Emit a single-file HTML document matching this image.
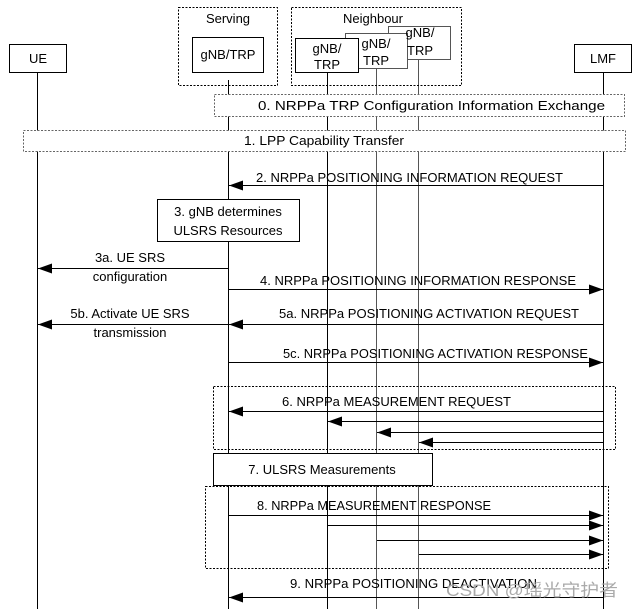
<!DOCTYPE html>
<html><head><meta charset="utf-8"><style>html,body{margin:0;padding:0;background:#fff}svg{display:block}text{font-family:"Liberation Sans","Noto Sans CJK SC",sans-serif;font-size:13px;fill:#000}</style></head>
<body>
<svg width="633" height="609" viewBox="0 0 633 609" xmlns="http://www.w3.org/2000/svg">
<defs><marker id="a" markerWidth="14" markerHeight="10" refX="14" refY="5" orient="auto" markerUnits="userSpaceOnUse"><path d="M0,0 L14,5 L0,10 z" fill="#000"/></marker></defs>
<g stroke="#000" stroke-width="1" fill="none">
<line x1="37.5" y1="72" x2="37.5" y2="609"/>
<line x1="228.5" y1="80" x2="228.5" y2="609"/>
<line x1="327.5" y1="72" x2="327.5" y2="609"/>
<line x1="376.5" y1="68" x2="376.5" y2="609" stroke="#555"/>
<line x1="418.5" y1="59" x2="418.5" y2="609" stroke="#555"/>
<line x1="603.5" y1="72" x2="603.5" y2="609"/>
<rect x="178.5" y="7.5" width="99" height="78" stroke-dasharray="2,1.5"/>
<rect x="291.5" y="7.5" width="170" height="78" stroke-dasharray="2,1.5"/>
</g>
<g fill="#fff" stroke="#000">
<rect x="9.5" y="44.5" width="57" height="28"/>
<rect x="192.5" y="37.5" width="71" height="35"/>
<rect x="574.5" y="44.5" width="57" height="28"/>
<rect x="388.5" y="26.5" width="62" height="33" stroke="#555"/>
<rect x="345.5" y="33.5" width="62" height="35" stroke="#555"/>
<rect x="295.5" y="38.5" width="63" height="34"/>
<rect x="214.5" y="94.5" width="410" height="22" stroke="#666" stroke-dasharray="2,1.5"/>
<rect x="23.5" y="130.5" width="602" height="21" stroke="#666" stroke-dasharray="2,1.5"/>
<rect x="157.5" y="199.5" width="142" height="42"/>
<rect x="213.5" y="453.5" width="219" height="32"/>
</g>
<g fill="none" stroke="#000" stroke-dasharray="2,1.5">
<rect x="213.5" y="386.5" width="402" height="63"/>
<rect x="205.5" y="486.5" width="403" height="82"/>
</g>
<g stroke="#000" marker-end="url(#a)">
<line x1="603" y1="185.5" x2="229" y2="185.5"/>
<line x1="228" y1="268.5" x2="38" y2="268.5"/>
<line x1="229" y1="289.5" x2="603" y2="289.5"/>
<line x1="603" y1="324.5" x2="229" y2="324.5"/>
<line x1="228" y1="324.5" x2="38" y2="324.5"/>
<line x1="229" y1="362.5" x2="603" y2="362.5"/>
<line x1="603" y1="411.5" x2="229" y2="411.5"/>
<line x1="603" y1="421.5" x2="328" y2="421.5"/>
<line x1="603" y1="432.5" x2="377" y2="432.5"/>
<line x1="603" y1="442.5" x2="419" y2="442.5"/>
<line x1="229" y1="515.5" x2="603" y2="515.5"/>
<line x1="328" y1="525.5" x2="603" y2="525.5"/>
<line x1="377" y1="540.5" x2="603" y2="540.5"/>
<line x1="419" y1="554.5" x2="603" y2="554.5"/>
<line x1="603" y1="597.5" x2="229" y2="597.5"/>
</g>
<g text-anchor="middle">
<text x="38" y="63">UE</text>
<text x="228" y="23">Serving</text>
<text x="228" y="59">gNB/TRP</text>
<text x="373" y="23">Neighbour</text>
<text x="603" y="63">LMF</text>
<text x="327" y="53">gNB/</text><text x="327" y="69">TRP</text>
<text x="376" y="48">gNB/</text><text x="376" y="65">TRP</text>
<text x="420" y="37">gNB/</text><text x="420" y="55">TRP</text>
<text x="130" y="262">3a. UE SRS</text>
<text x="130" y="281">configuration</text>
<text x="130" y="318">5b. Activate UE SRS</text>
<text x="130" y="337">transmission</text>
<text x="228" y="216">3. gNB determines</text>
<text x="228" y="235">ULSRS Resources</text>
<text x="322" y="474">7. ULSRS Measurements</text>
</g>
<text x="258" y="110" textLength="347" lengthAdjust="spacingAndGlyphs">0. NRPPa TRP Configuration Information Exchange</text>
<text x="244" y="145" textLength="160" lengthAdjust="spacingAndGlyphs">1. LPP Capability Transfer</text>
<text x="256" y="182" textLength="307" lengthAdjust="spacingAndGlyphs">2. NRPPa POSITIONING INFORMATION REQUEST</text>
<text x="260" y="285" textLength="316" lengthAdjust="spacingAndGlyphs">4. NRPPa POSITIONING INFORMATION RESPONSE</text>
<text x="279" y="318" textLength="300" lengthAdjust="spacingAndGlyphs">5a. NRPPa POSITIONING ACTIVATION REQUEST</text>
<text x="283" y="358" textLength="305" lengthAdjust="spacingAndGlyphs">5c. NRPPa POSITIONING ACTIVATION RESPONSE</text>
<text x="282" y="406" textLength="229" lengthAdjust="spacingAndGlyphs">6. NRPPa  MEASUREMENT REQUEST</text>
<text x="257" y="510" textLength="234" lengthAdjust="spacingAndGlyphs">8. NRPPa MEASUREMENT RESPONSE</text>
<text x="290" y="588" textLength="247" lengthAdjust="spacingAndGlyphs">9. NRPPa POSITIONING DEACTIVATION</text>
<text x="446" y="596" style="fill:#aaa;font-size:17px" textLength="172" lengthAdjust="spacingAndGlyphs">CSDN @瑶光守护者</text>
</svg>
</body></html>
